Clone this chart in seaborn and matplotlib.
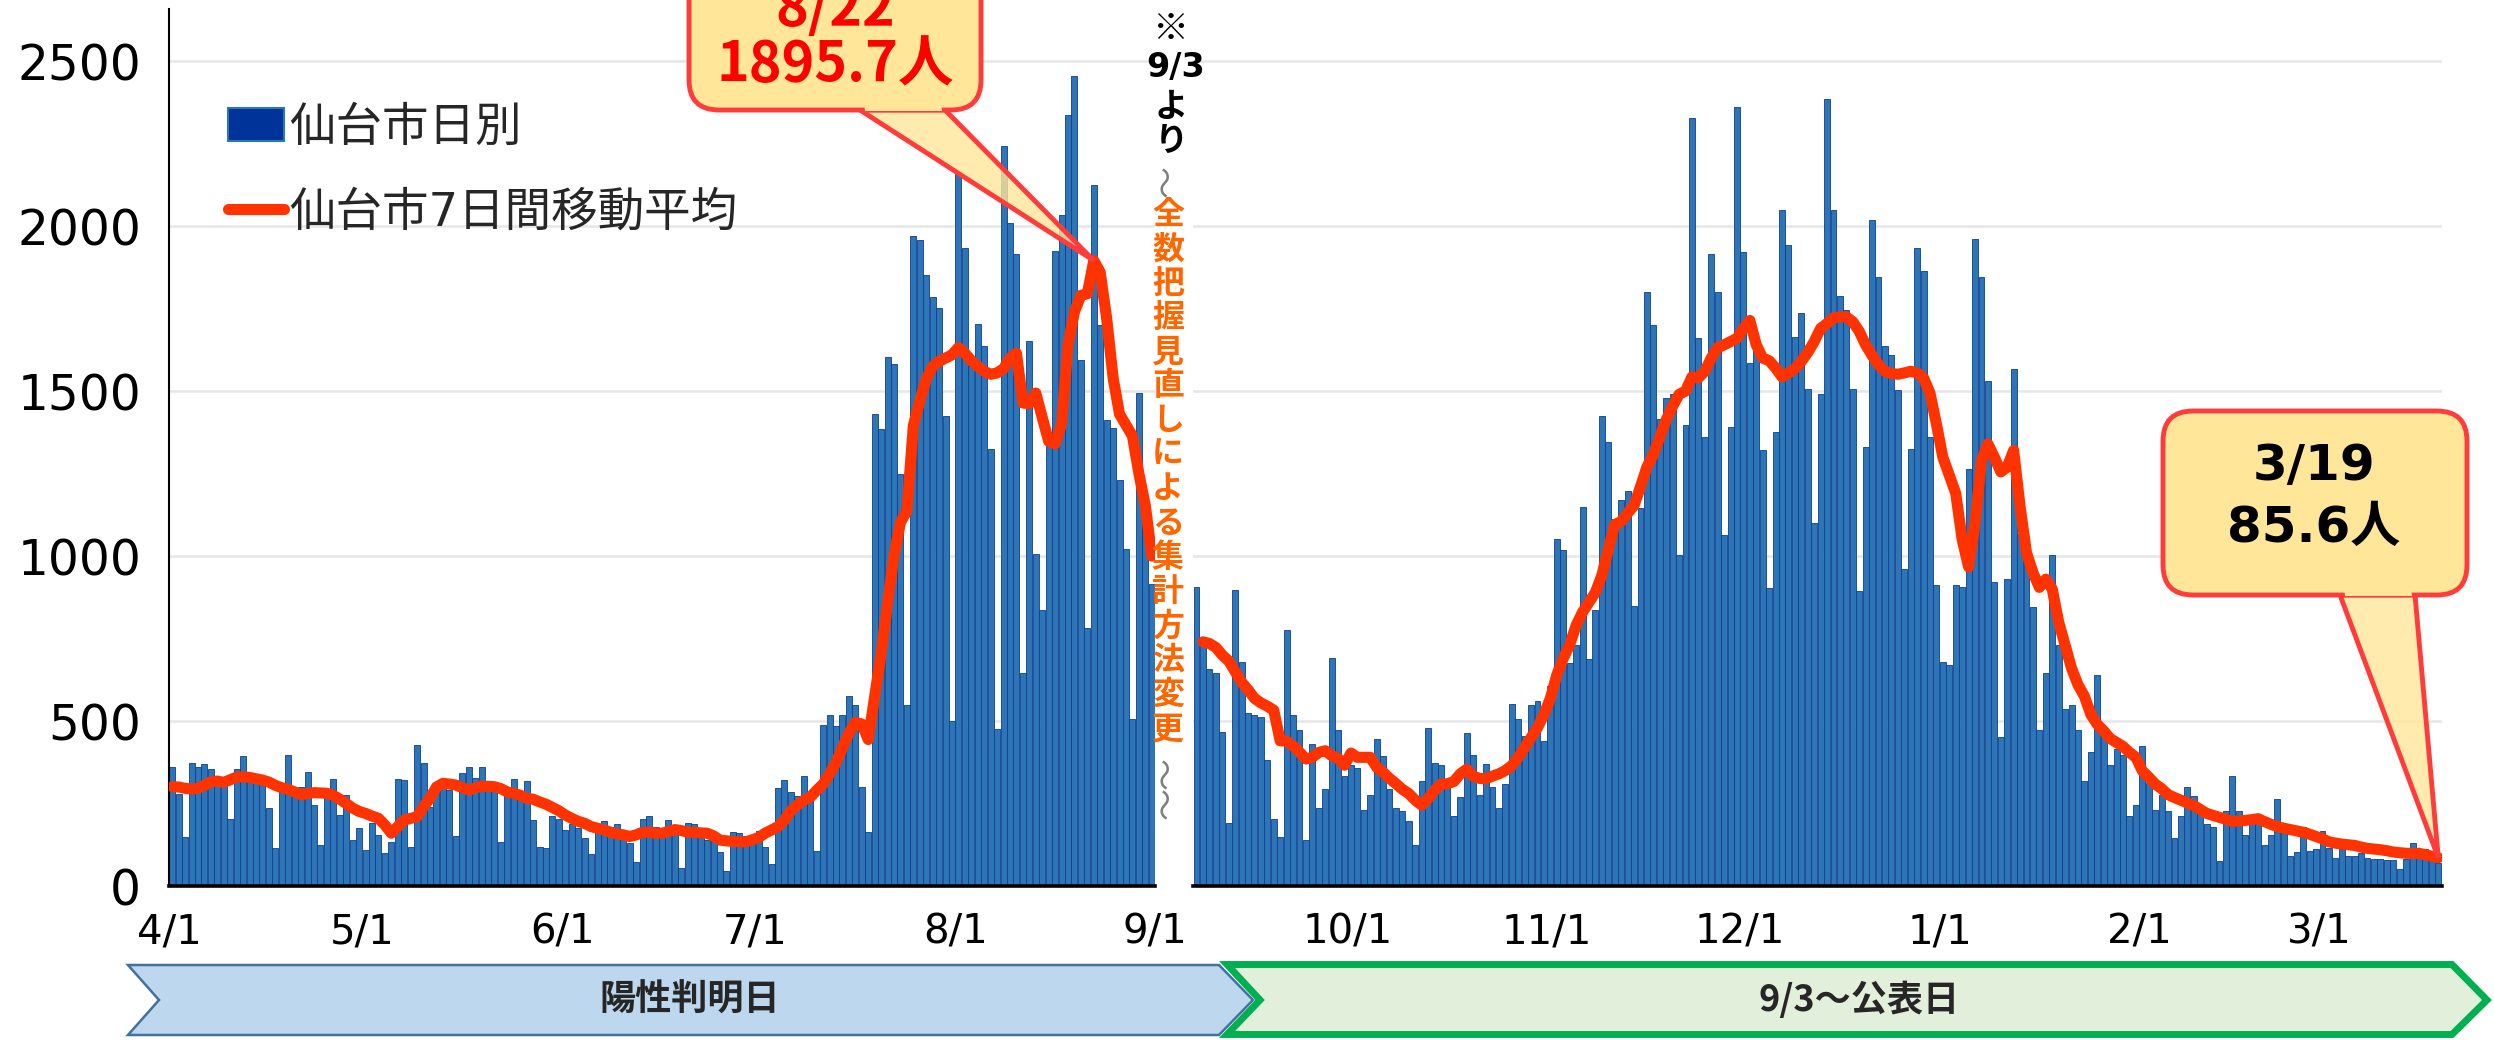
import numpy as np
import pandas as pd
import matplotlib
matplotlib.use("Agg")
import matplotlib.pyplot as plt
import seaborn as sns
from matplotlib.patches import Polygon, FancyBboxPatch, Patch
from matplotlib.lines import Line2D

sns.set_style("white")
plt.rcParams["font.family"] = ["DejaVu Sans", "Noto Sans CJK JP"]

# ---------------- data ----------------
# before the change of counting method (陽性判明日), daily from 4/1
left_start = "2022-04-01"
left_counts = [
    360, 280, 147, 372, 362, 369, 355, 330, 330, 202,
    354, 394, 326, 320, 311, 235, 114, 305, 397, 275,
    301, 344, 245, 124, 270, 323, 215, 277, 139, 177,
    109, 190, 155, 99, 134, 324, 321, 117, 427, 372,
    240, 299, 301, 291, 152, 341, 362, 326, 362, 305,
    305, 134, 285, 323, 270, 318, 200, 119, 114, 212,
    204, 171, 187, 176, 146, 98, 187, 196, 179, 187,
    155, 131, 74, 204, 212, 179, 171, 199, 179, 54,
    191, 187, 163, 139, 139, 103, 45, 163, 160, 153,
    153, 166, 118, 66, 296, 322, 285, 272, 333, 285,
    106, 488, 517, 485, 517, 577, 549, 301, 163, 1430,
    1384, 1604, 1581, 1248, 549, 1970, 1957, 1852, 1786, 1753,
    1425, 501, 2157, 1933, 1576, 1703, 1638, 1324, 475, 2244,
    2010, 1916, 647, 1651, 1007, 836, 1373, 1925, 2035, 2338,
    2455, 1595, 783, 2124, 1700, 1413, 1387, 1229, 1020, 507,
    1494, 1120, 914,
]
left_avg = [
    301, 300, 296, 294, 296, 305, 316, 318, 314, 322,
    330, 331, 329, 325, 321, 315, 305, 298, 293, 285,
    277, 280, 283, 282, 281, 275, 263, 250, 236, 226,
    220, 212, 205, 185, 160, 180, 200, 205, 210, 240,
    266, 300, 311, 309, 306, 298, 291, 297, 303, 302,
    301, 295, 285, 281, 275, 266, 263, 255, 248, 238,
    228, 215, 205, 196, 190, 180, 175, 170, 163, 158,
    155, 150, 155, 163, 163, 160, 160, 165, 171, 168,
    163, 163, 161, 160, 152, 139, 137, 135, 134, 134,
    140, 147, 160, 170, 180, 200, 228, 245, 260, 269,
    290, 309, 340, 374, 420, 463, 496, 491, 444, 575,
    705, 858, 1002, 1102, 1137, 1395, 1470, 1537, 1575, 1590,
    1600, 1610, 1632, 1615, 1592, 1575, 1560, 1551, 1555, 1568,
    1600, 1615, 1464, 1462, 1494, 1420, 1348, 1340, 1400, 1640,
    1740, 1790, 1795, 1895.7, 1860, 1720, 1540, 1430, 1397, 1364,
    1250, 1153, 1000,
]

# after the change (9/3～公表日), daily from 9/7, average from 9/8
right_start = "2022-09-07"
right_counts = [
    905, 755, 658, 646, 466, 192, 896, 679, 523, 519,
    512, 382, 203, 149, 775, 519, 474, 138, 431, 236,
    293, 691, 472, 334, 366, 358, 231, 277, 447, 394,
    293, 236, 228, 196, 123, 318, 480, 374, 366, 322,
    212, 269, 463, 398, 277, 369, 300, 236, 309, 553,
    507, 455, 549, 561, 439, 605, 1051, 1019, 675, 731,
    1149, 688, 837, 1425, 1345, 1113, 1170, 1197, 848, 1145,
    1800, 1701, 1416, 1478, 1490, 1004, 1397, 2327, 1661, 1361,
    1916, 1800, 1064, 1392, 2361, 1921, 1586, 1650, 1320, 902,
    1376, 2049, 1944, 1664, 1737, 1505, 1101, 1490, 2384, 2049,
    1789, 1745, 1507, 894, 1332, 2017, 1847, 1636, 1608, 1502,
    962, 1324, 1933, 1865, 1360, 913, 678, 670, 913, 907,
    1264, 1960, 1847, 1530, 920, 451, 931, 1568, 1067, 978,
    845, 472, 645, 1002, 731, 535, 550, 472, 317, 406,
    639, 468, 366, 415, 398, 212, 244, 423, 312, 231,
    277, 228, 144, 212, 301, 274, 228, 187, 179, 77,
    228, 333, 228, 155, 214, 211, 125, 155, 264, 163,
    90, 103, 179, 106, 111, 166, 114, 85, 111, 90,
    90, 101, 85, 82, 82, 79, 79, 53, 82, 131,
    90, 111, 101, 69,
]
right_avg = [
    740, 735, 723, 700, 682, 650, 618, 595, 569, 555,
    545, 533, 440, 439, 425, 406, 385, 390, 405, 410,
    395, 387, 366, 403, 390, 390, 390, 360, 345, 326,
    310, 293, 280, 260, 245, 265, 290, 309, 310, 317,
    340, 354, 333, 326, 325, 333, 340, 350, 365, 390,
    420, 450, 480, 520, 569, 640, 690, 731, 790, 830,
    860, 890, 942, 1020, 1095, 1105, 1130, 1153, 1210, 1270,
    1308, 1360, 1413, 1454, 1490, 1500, 1543, 1540, 1560, 1600,
    1632, 1640, 1650, 1660, 1690, 1714, 1640, 1600, 1592, 1570,
    1543, 1555, 1568, 1590, 1617, 1650, 1690, 1705, 1722, 1725,
    1725, 1710, 1681, 1640, 1608, 1580, 1560, 1553, 1551, 1555,
    1560, 1555, 1540, 1494, 1400, 1299, 1245, 1190, 1050, 967,
    1100, 1290, 1340, 1300, 1255, 1270, 1320, 1150, 1010, 950,
    905, 930, 900, 800, 730, 660, 610, 575, 520, 490,
    470, 447, 435, 423, 405, 390, 349, 330, 309, 295,
    277, 268, 260, 252, 244, 232, 220, 214, 208, 202,
    196, 197, 199, 201, 204, 195, 187, 180, 175, 171,
    167, 163, 157, 150, 143, 134, 130, 127, 125, 123,
    118, 114, 112, 110, 107, 103, 101, 99, 99, 99,
    95, 90, 85.6,
]

left_ticks = ["2022-04-01", "2022-05-01", "2022-06-01", "2022-07-01", "2022-08-01", "2022-09-01"]
right_ticks = ["2022-10-01", "2022-11-01", "2022-12-01", "2023-01-01", "2023-02-01", "2023-03-01"]
y_ticks = [0, 500, 1000, 1500, 2000, 2500]

legend_labels = ["仙台市日別", "仙台市7日間移動平均"]
note_top = ["※", "9/3", "よ", "り"]
note_body = "全数把握見直しによる集計方法変更"
band_labels = ["陽性判明日", "9/3～公表日"]

# ---------------- style ----------------
BAR = "#2E75B6"
BAR_EDGE = "#0B3F94"
LINE = "#FF3300"
YEL = "#FFE699"
RED = "#FF3B3B"

W, H, DPI = 2494, 1040, 100
fig = plt.figure(figsize=(W / DPI, H / DPI), dpi=DPI)
tr = fig.dpi_scale_trans


def px_rect(x0, y0, x1, y1):
    return [x0 / W, 1 - y1 / H, (x1 - x0) / W, (y1 - y0) / H]


def pin(x, y):
    # pixel (from top-left) -> inches for dpi_scale_trans
    return (x / DPI, (H - y) / DPI)


ax1 = fig.add_axes(px_rect(169, 9, 1155, 886))
ax2 = fig.add_axes(px_rect(1193.3, 9, 2441.5, 886))


def build(start, counts, avg, avg_offset):
    dates = pd.date_range(start, periods=len(counts))
    bars = pd.DataFrame({"pos": (dates - dates[0]).days + 0.5, "count": counts})
    avg_dates = pd.date_range(dates[avg_offset], periods=len(avg))
    line = pd.DataFrame({"pos": (avg_dates - dates[0]).days + 0.5, "avg": avg})
    return bars, line


left_bars, left_line = build(left_start, left_counts, left_avg, 0)
right_bars, right_line = build(right_start, right_counts, right_avg, 1)

for ax, bars, line, start, ticks, ndays in [
    (ax1, left_bars, left_line, left_start, left_ticks, 153),
    (ax2, right_bars, right_line, right_start, right_ticks, 194),
]:
    sns.barplot(data=bars, x="pos", y="count", native_scale=True, width=0.92,
                color=BAR, edgecolor=BAR_EDGE, linewidth=0.6, saturation=1,
                errorbar=None, ax=ax, zorder=2)
    sns.lineplot(data=line, x="pos", y="avg", color=LINE, linewidth=8,
                 solid_capstyle="round", legend=False, ax=ax, zorder=3)
    ax.set_xlim(0, ndays)
    ax.set_ylim(0, 2658)
    ax.set_yticks(y_ticks)
    ax.yaxis.grid(True, color="#E6E6E6", linewidth=1.8)
    ax.set_axisbelow(True)
    tick_dates = pd.to_datetime(ticks)
    ax.set_xticks((tick_dates - pd.Timestamp(start)).days)
    ax.set_xticklabels([f"{d.month}/{d.day}" for d in tick_dates])
    ax.set_xlabel("")
    ax.set_ylabel("")
    for s in ["top", "right"]:
        ax.spines[s].set_visible(False)
    ax.spines["bottom"].set_linewidth(2.6)
    ax.spines["bottom"].set_color("black")
    ax.tick_params(axis="x", direction="out", length=8, width=1.5,
                   labelsize=29, pad=11, colors="black")

ax1.spines["left"].set_linewidth(1.5)
ax1.spines["left"].set_color("black")
ax1.tick_params(axis="y", direction="out", length=9, width=1.5,
                labelsize=35, pad=11, colors="black")
ax2.spines["left"].set_visible(False)
ax2.tick_params(axis="y", left=False, labelleft=False)

# legend
handles = [Patch(facecolor="#003399", edgecolor="#2E75B6", linewidth=1.5),
           Line2D([], [], color=LINE, lw=8, solid_capstyle="round")]
ax1.legend(handles, legend_labels, loc="upper left",
           bbox_to_anchor=(228 / W, 1 - 106 / H), bbox_transform=fig.transFigure,
           frameon=False, fontsize=33.5, handlelength=1.2, handleheight=0.7,
           handletextpad=0.12, labelspacing=0.85, borderaxespad=0, borderpad=0)


# ---------------- callouts ----------------
def callout(ax, x, y, box, base, lw=3.5):
    x0, y0, x1, y1 = box
    bx0, bx1 = base
    tip = ax.transData.transform((x, y)) / DPI
    wedge = Polygon([pin(bx0, y1), tuple(tip), pin(bx1, y1)], closed=True,
                    transform=tr, facecolor=(1, 0.9, 0.6, 0.8), edgecolor=RED,
                    linewidth=lw, joinstyle="miter", zorder=5)
    rect = FancyBboxPatch(pin(x0, y1), (x1 - x0) / DPI, (y1 - y0) / DPI,
                          boxstyle="round,pad=0,rounding_size=0.3", transform=tr,
                          facecolor=YEL, edgecolor=RED, linewidth=lw, zorder=6)
    cover = Polygon([pin(bx0 + 4, y1 - 8), pin(bx1 - 4, y1 - 8),
                     pin(bx1 - 3, y1 + 1), pin(bx0 + 5, y1 + 1)], closed=True,
                    transform=tr, facecolor=YEL, edgecolor="none", zorder=7)
    for p in (wedge, rect, cover):
        fig.add_artist(p)


callout(ax1, left_line["pos"].iloc[143], left_avg[143], (689, -60, 981, 110), (860, 945))
callout(ax2, right_line["pos"].iloc[-1], right_avg[-1], (2163, 411, 2467, 595), (2340, 2415))

cjk_bold = ["Noto Sans CJK JP", "DejaVu Sans"]
fig.text(835 / W, 1 - 9 / H, "8/22", color="#FF0000", fontsize=40, fontweight="bold",
         family=cjk_bold, ha="center", va="center", zorder=8)
fig.text(835 / W, 1 - 66 / H, f"{left_avg[143]}人", color="#FF0000", fontsize=40,
         fontweight="bold", family=cjk_bold, ha="center", va="center", zorder=8)
fig.text(2314 / W, 1 - 466 / H, "3/19", color="black", fontsize=36, fontweight="bold",
         family=["DejaVu Sans", "Noto Sans CJK JP"], ha="center", va="center", zorder=8)
fig.text(2314 / W, 1 - 528 / H, f"{right_avg[-1]}人", color="black", fontsize=36,
         fontweight="bold", family=["DejaVu Sans", "Noto Sans CJK JP"],
         ha="center", va="center", zorder=8)

# ---------------- vertical note between panels ----------------
note_y = [29, 68, 107, 141]
note_size = [26, 24, 24, 24]
for ch, yy, fs in zip(note_top, note_y, note_size):
    fam = ["DejaVu Sans", "Noto Sans CJK JP"] if ch == "9/3" else ["Noto Sans CJK JP"]
    fig.text((1176 if ch == "9/3" else 1171) / W, 1 - yy / H, ch, color="black",
             fontsize=fs, fontweight="bold", family=fam, ha="center", va="center")
for yy in [181, 773, 803]:
    fig.text(1168 / W, 1 - yy / H, "～", color="#7F7F7F", fontsize=23, rotation=90,
             family=["Noto Sans CJK JP"], ha="center", va="center")
for i, ch in enumerate(note_body):
    fig.text(1168 / W, 1 - (215 + i * 34.3) / H, ch, color="#FF6600", fontsize=23,
             fontweight="bold", family=["Noto Sans CJK JP"], ha="center", va="center")

# ---------------- bottom bands ----------------
blue = Polygon([pin(128, 965), pin(1219, 965), pin(1253, 1000), pin(1219, 1035),
                pin(128, 1035), pin(159, 1000)], closed=True, transform=tr,
               facecolor="#BDD7EE", edgecolor="#41719C", linewidth=1.8, zorder=1)
green = Polygon([pin(1227, 964.5), pin(2452, 964.5), pin(2487, 1000), pin(2452, 1034.5),
                 pin(1227, 1034.5), pin(1260, 1000)], closed=True, transform=tr,
                facecolor="#E2EFDA", edgecolor="#00B050", linewidth=5, zorder=2)
fig.add_artist(blue)
fig.add_artist(green)
fig.text(690 / W, 1 - 1000 / H, band_labels[0], fontsize=26, fontweight="bold",
         family=["Noto Sans CJK JP"], ha="center", va="center", zorder=3)
fig.text(1859 / W, 1 - 1000 / H, band_labels[1], fontsize=26, fontweight="bold",
         family=["Noto Sans CJK JP"], ha="center", va="center", zorder=3)

fig.savefig("out.png", dpi=DPI)
